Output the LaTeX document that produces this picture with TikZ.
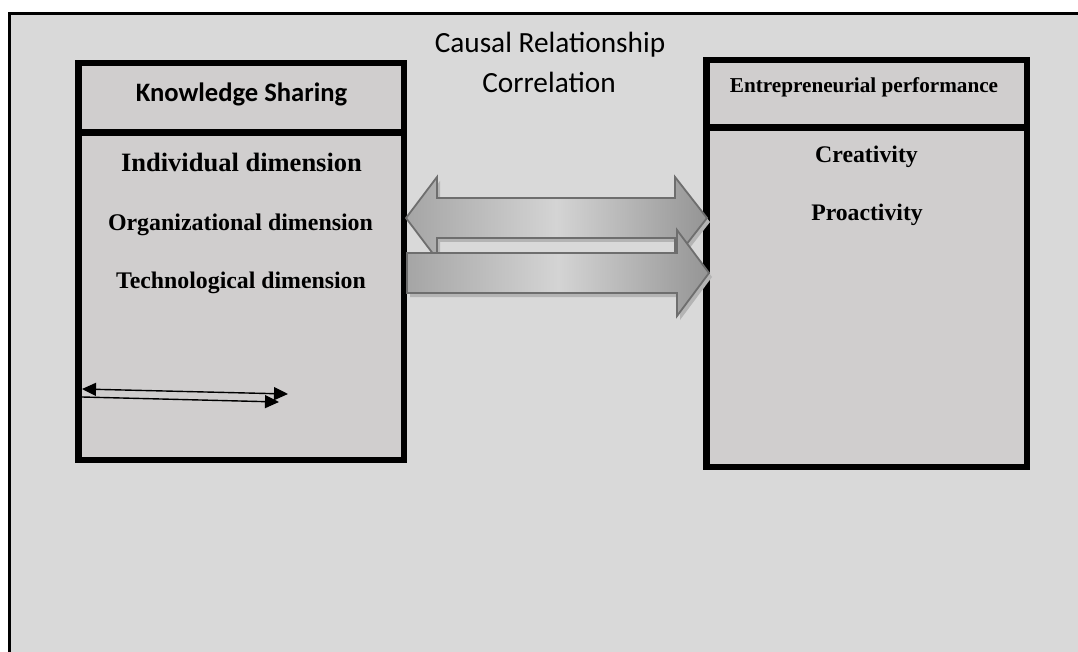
\documentclass[tikz,border=0pt]{standalone}
\usepackage{fontspec}
\setmainfont{Liberation Serif}
\newfontfamily\calibri{Carlito}
\usetikzlibrary{arrows.meta,shadings}
\definecolor{bgcol}{RGB}{217,217,217}
\definecolor{boxcol}{RGB}{208,206,206}
\definecolor{arrline}{RGB}{110,110,110}
\definecolor{arrdark}{RGB}{165,165,165}
\definecolor{arrlight}{RGB}{212,212,212}
\definecolor{shadowcol}{RGB}{180,180,180}
\tikzset{
  boxline/.style={draw=black, line width=6.5pt, fill=boxcol},
  bigarrow/.style={draw=arrline, line width=1.8pt, left color=arrdark, right color=arrdark!90!black, middle color=arrlight},
  arrshadow/.style={fill=shadowcol},
  smallarr/.style={line width=1.4pt, -{Triangle[length=14pt,width=13pt]}},
  smalldbl/.style={line width=1.4pt, {Triangle[length=14pt,width=13pt]}-{Triangle[length=14pt,width=13pt]}},
  lbl/.style={inner sep=0pt, anchor=base},
}
\begin{document}
\begin{tikzpicture}[x=1pt,y=-1pt]
\useasboundingbox (0,0) rectangle (1078,652);
\clip (0,0) rectangle (1078,652);
\fill[white] (0,0) rectangle (1078,652);
% outer frame
\draw[line width=2.5pt, fill=bgcol] (9.5,13.5) rectangle (1100,680);

% title texts
\node[lbl, font=\calibri\fontsize{29.3}{32}\selectfont] (causal) at (550,53) {Causal Relationship};
\node[lbl, font=\calibri\fontsize{29.3}{32}\selectfont] (corr) at (549,93) {Correlation};

% left box
\draw[boxline] (78.25,63.25) rectangle (403.75,459.75);
\draw[black, line width=6.5pt] (78.25,132.5) -- (403.75,132.5);
\node[lbl, font=\calibri\bfseries\fontsize{26.6}{30}\selectfont] (ks) at (241.5,102) {Knowledge Sharing};
\node[lbl, font=\bfseries\fontsize{26.5}{30}\selectfont] (ind) at (241.5,172) {Individual dimension};
\node[lbl, font=\bfseries\fontsize{23.9}{28}\selectfont] (org) at (240.5,231) {Organizational dimension};
\node[lbl, font=\bfseries\fontsize{23.8}{28}\selectfont] (tech) at (241,288) {Technological dimension};

% right box
\draw[boxline] (706.25,60.25) rectangle (1026.75,466.75);
\draw[black, line width=6.5pt] (706.25,127.5) -- (1026.75,127.5);
\node[lbl, font=\bfseries\fontsize{21.2}{24}\selectfont] (ep) at (864,93) {Entrepreneurial performance};
\node[lbl, font=\bfseries\fontsize{23.8}{28}\selectfont] (crea) at (866.5,163) {Creativity};
\node[lbl, font=\bfseries\fontsize{23.7}{28}\selectfont] (proa) at (867,221) {Proactivity};

% big double arrow (correlation)
\begin{scope}[shift={(3,4)}]
\fill[arrshadow] (406,218) -- (437,177) -- (437,198) -- (675,198) -- (675,177) -- (707,218) -- (675,259) -- (675,238) -- (437,238) -- (437,259) -- cycle;
\end{scope}
\path[bigarrow] (406,218) -- (437,177) -- (437,198) -- (675,198) -- (675,177) -- (707,218) -- (675,259) -- (675,238) -- (437,238) -- (437,259) -- cycle;

% big single arrow (causal)
\begin{scope}[shift={(3,4)}]
\fill[arrshadow] (407,253) -- (677,253) -- (677,230) -- (709,273) -- (677,316) -- (677,293) -- (407,293) -- cycle;
\end{scope}
\path[bigarrow] (407,253) -- (677,253) -- (677,230) -- (709,273) -- (677,316) -- (677,293) -- (407,293) -- cycle;

% small arrows in left box
\coordinate (s1a) at (82,389);
\coordinate (s1b) at (288,394);
\coordinate (s2a) at (82,397);
\coordinate (s2b) at (279,402);
\draw[smalldbl] (s1a) -- (s1b);
\draw[smallarr] (s2a) -- (s2b);
\end{tikzpicture}
\end{document}
